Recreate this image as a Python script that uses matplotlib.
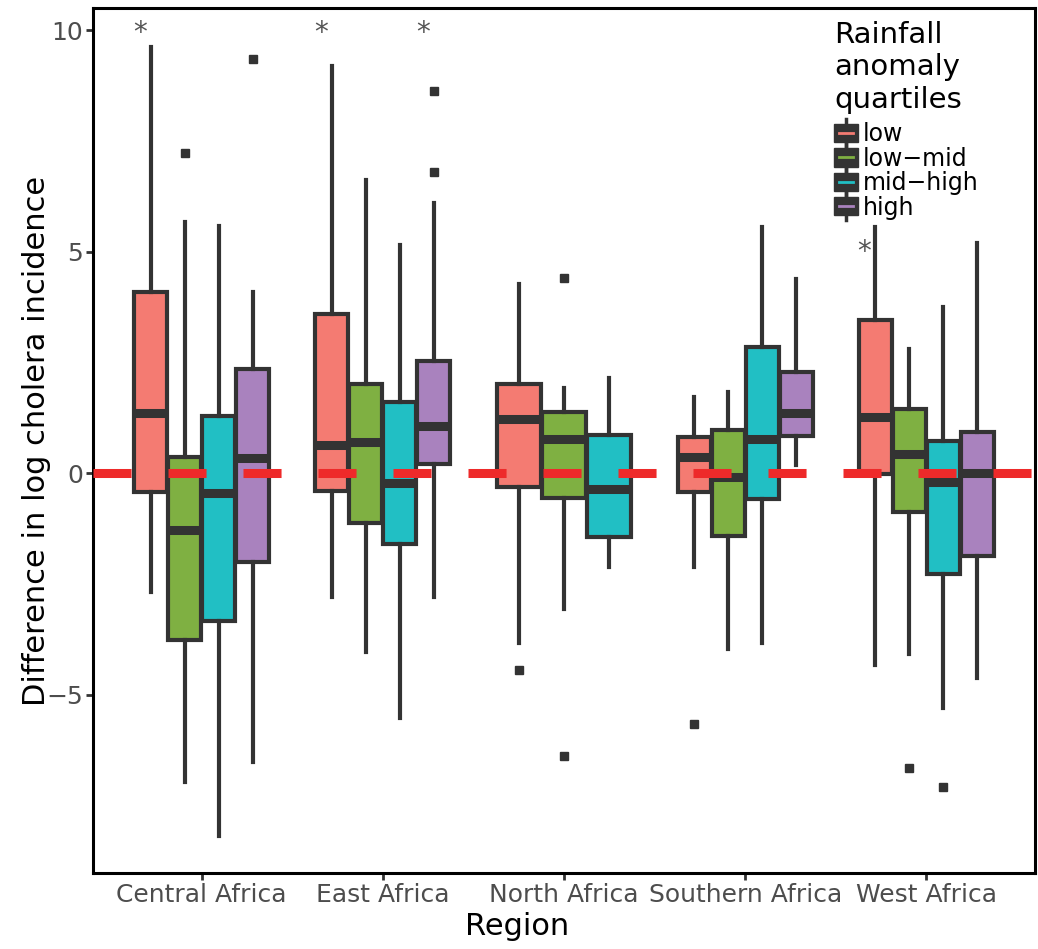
import numpy as np
import matplotlib
matplotlib.use("Agg")
import matplotlib.pyplot as plt
from matplotlib.patches import Patch, Rectangle
from matplotlib.lines import Line2D
from matplotlib.legend_handler import HandlerBase

plt.rcParams['font.family'] = ['DejaVu Sans']
plt.rcParams['lines.scale_dashes'] = False

regions = ["Central Africa", "East Africa", "North Africa", "Southern Africa", "West Africa"]
quartiles = ["low", "low\u2212mid", "mid\u2212high", "high"]
colors = ["#F47B72", "#7FB042", "#21BFC4", "#A982BE"]
nan = np.nan

# box stats per quartile, one value per region (nan = no data)
low_whislo = [-2.68, -2.8, -3.84, -2.12, -4.33]
low_q1 = [-0.42, -0.41, -0.32, -0.43, -0.03]
low_med = [1.35, 0.63, 1.21, 0.37, 1.26]
low_q3 = [4.08, 3.58, 2.0, 0.82, 3.45]
low_whishi = [9.62, 9.19, 4.27, 1.72, 5.56]
low_fliers = [[], [], [-4.45], [-5.67], []]

lowmid_whislo = [-6.97, -4.04, -3.07, -3.97, -4.09]
lowmid_q1 = [-3.76, -1.12, -0.57, -1.41, -0.87]
lowmid_med = [-1.29, 0.7, 0.76, -0.09, 0.43]
lowmid_q3 = [0.36, 2.0, 1.37, 0.97, 1.45]
lowmid_whishi = [5.67, 6.61, 1.91, 1.84, 2.8]
lowmid_fliers = [[7.22], [], [4.41, -6.38], [], [-6.66]]

midhigh_whislo = [-8.2, -5.53, -2.12, -3.84, -5.3]
midhigh_q1 = [-3.35, -1.6, -1.44, -0.58, -2.27]
midhigh_med = [-0.45, -0.23, -0.37, 0.76, -0.2]
midhigh_q3 = [1.29, 1.61, 0.87, 2.85, 0.72]
midhigh_whishi = [5.58, 5.15, 2.15, 5.56, 3.75]
midhigh_fliers = [[], [], [], [], [-7.09]]

high_whislo = [-6.52, -2.8, nan, 0.18, -4.63]
high_q1 = [-2.0, 0.21, nan, 0.84, -1.87]
high_med = [0.33, 1.06, nan, 1.35, 0.0]
high_q3 = [2.34, 2.53, nan, 2.29, 0.93]
high_whishi = [4.09, 6.09, nan, 4.38, 5.19]
high_fliers = [[9.34], [8.62, 6.79], [], [], []]

# significance stars: (region index, quartile index, y)
stars = [(0, 0, 9.93), (1, 0, 9.93), (1, 3, 9.93), (4, 0, 4.98)]

series = [
    (low_whislo, low_q1, low_med, low_q3, low_whishi, low_fliers),
    (lowmid_whislo, lowmid_q1, lowmid_med, lowmid_q3, lowmid_whishi, lowmid_fliers),
    (midhigh_whislo, midhigh_q1, midhigh_med, midhigh_q3, midhigh_whishi, midhigh_fliers),
    (high_whislo, high_q1, high_med, high_q3, high_whishi, high_fliers),
]

edge = "#333333"
fig = plt.figure(figsize=(10.38, 9.49), dpi=100)
ax = fig.add_axes([93 / 1038, 76 / 949, 942 / 1038, 865 / 949])

dodge = 0.75
centers = {}
for r in range(len(regions)):
    present = [k for k in range(4) if not np.isnan(series[k][2][r])]
    n = len(present)
    w = dodge / n
    for j, k in enumerate(present):
        pos = r - dodge / 2 + w * (j + 0.5)
        centers[(r, k)] = pos
        wl, q1, md, q3, wh, fl = series[k]
        st = [dict(whislo=wl[r], q1=q1[r], med=md[r], q3=q3[r], whishi=wh[r], fliers=fl[r])]
        ax.bxp(st, positions=[pos], widths=w * 0.97, patch_artist=True, showcaps=False,
               boxprops=dict(facecolor=colors[k], edgecolor=edge, linewidth=3.0),
               whiskerprops=dict(color=edge, linewidth=3.0),
               medianprops=dict(color=edge, linewidth=6.5, solid_capstyle='butt'),
               flierprops=dict(marker='s', markersize=6, markerfacecolor=edge, markeredgecolor=edge),
               manage_ticks=False)

for r, k, y in stars:
    ax.text(centers[(r, k)] - 0.06, y, "*", ha='center', va='center', fontsize=20, color='#555555')

ax.plot([-0.6, 4.6], [0, 0], color='#EE2A2A', linewidth=6.5, dashes=(27.4, 26.6), zorder=5,
        solid_capstyle='butt', dash_capstyle='butt')

ax.set_xlim(-0.6, 4.6)
ax.set_ylim(-9.03, 10.5)
ax.set_xticks(range(len(regions)))
ax.set_xticklabels(regions)
ax.set_yticks([-5, 0, 5, 10])
ax.set_yticklabels(["\u22125", "0", "5", "10"])
ax.tick_params(axis='both', labelsize=18, labelcolor='#4D4D4D', color='#333333', length=5, width=2, pad=2)
for s in ax.spines.values():
    s.set_linewidth(2.2)
    s.set_color('black')

ax.set_xlabel("Region", fontsize=22)
ax.set_ylabel("Difference in log cholera incidence", fontsize=22)
ax.xaxis.set_label_coords(0.45, -0.045)
ax.yaxis.set_label_coords(-0.045, 0.5)


class BoxKey(HandlerBase):
    def create_artists(self, legend, orig_handle, xdescent, ydescent, width, height, fontsize, trans):
        c = orig_handle.get_facecolor()
        cx = width / 2 - xdescent
        stub = Line2D([cx, cx], [-ydescent - 3, height - ydescent + 3], color=edge, linewidth=2.5, transform=trans)
        rect = Rectangle((-xdescent, -ydescent + 0.5), width, height - 1, facecolor=edge, edgecolor=edge, transform=trans)
        mid = Line2D([-xdescent + width * 0.2, -xdescent + width * 0.8], [height / 2 - ydescent] * 2,
                     color=c, linewidth=2, transform=trans)
        return [stub, rect, mid]


handles = [Patch(facecolor=c, label=q) for c, q in zip(colors, quartiles)]
leg = ax.legend(handles=handles, title="Rainfall\nanomaly\nquartiles", loc='upper left',
                bbox_to_anchor=(0.787, 0.985), frameon=False, fontsize=17, title_fontsize=21,
                handler_map={Patch: BoxKey()}, handlelength=1.0, handleheight=0.9,
                handletextpad=0.2, labelspacing=0.02, borderpad=0, borderaxespad=0,
                alignment='left')
leg.get_title().set_linespacing(1.2)
leg._legend_box.sep = 6  # a bit of room between title and keys

fig.savefig("out.png", dpi=100)
